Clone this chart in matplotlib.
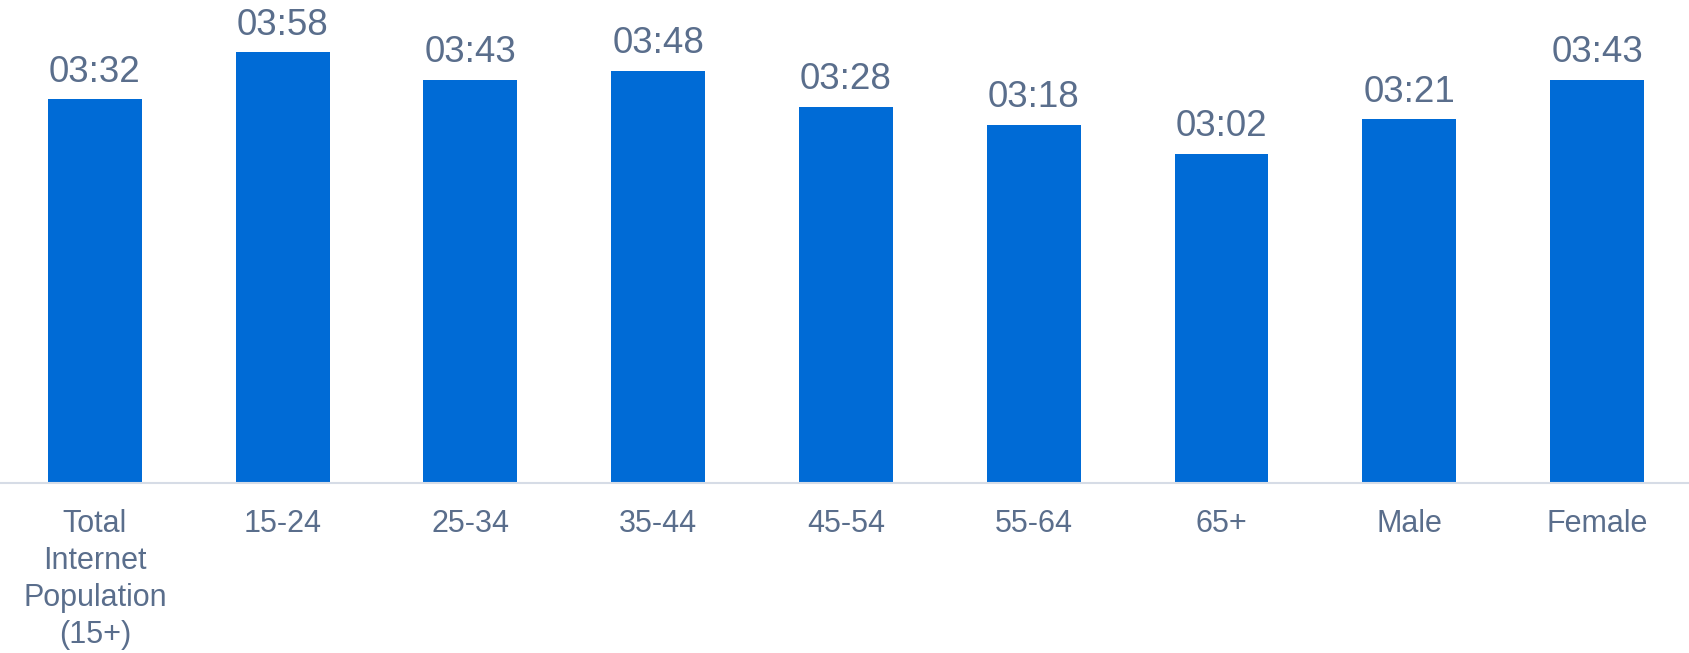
import matplotlib.pyplot as plt

categories = ["Total\nInternet\nPopulation\n(15+)", "15-24", "25-34", "35-44", "45-54",
              "55-64", "65+", "Male", "Female"]
# time spent, in minutes (shown as hh:mm)
minutes = [212, 238, 223, 228, 208, 198, 182, 201, 223]

bar_color = "#006BD6"
text_color = "#5A6E8C"

plt.rcParams["font.family"] = ["Liberation Sans", "DejaVu Sans"]

fig = plt.figure(figsize=(16.9, 6.53), dpi=100)
ax = fig.add_axes([0, 170 / 653, 1, 483 / 653])

x = range(len(categories))
bars = ax.bar(x, minutes, width=0.5, color=bar_color)

for b, m in zip(bars, minutes):
    ax.annotate(f"{m // 60:02d}:{m % 60:02d}", (b.get_x() + b.get_width() / 2, b.get_height()),
                xytext=(0, 7), textcoords="offset points", ha="center", va="bottom",
                fontsize=26.5, color=text_color)

ax.set_xlim(-0.505, 8.495)
ax.set_ylim(0, 267)
ax.set_xticks(list(x))
ax.set_xticklabels(categories, fontsize=22, color=text_color, linespacing=1.3)
ax.tick_params(axis="x", length=0, pad=19)
ax.set_yticks([])
for s in ["top", "right", "left"]:
    ax.spines[s].set_visible(False)
ax.spines["bottom"].set_color("#D6DCE6")
ax.spines["bottom"].set_linewidth(1.5)

fig.savefig("out.png", dpi=100)
